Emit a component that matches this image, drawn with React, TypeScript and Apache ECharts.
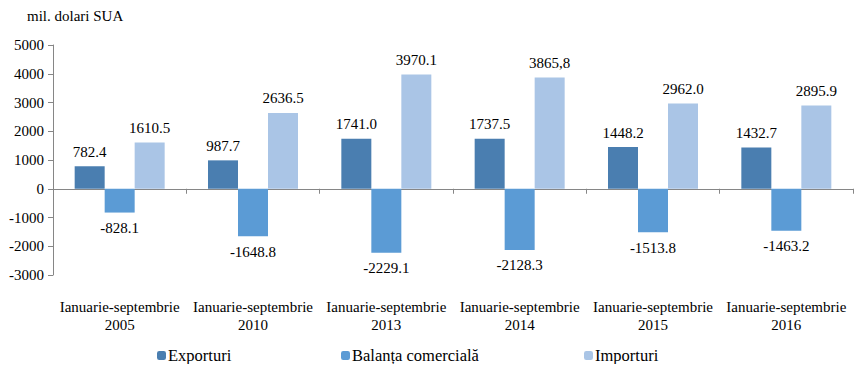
import React, { useEffect, useRef } from "react";
import * as echarts from "echarts";

const categories = [
  "Ianuarie-septembrie\n2005",
  "Ianuarie-septembrie\n2010",
  "Ianuarie-septembrie\n2013",
  "Ianuarie-septembrie\n2014",
  "Ianuarie-septembrie\n2015",
  "Ianuarie-septembrie\n2016",
];
const exporturi = [782.4, 987.7, 1741.0, 1737.5, 1448.2, 1432.7];
const balanta = [-828.1, -1648.8, -2229.1, -2128.3, -1513.8, -1463.2];
const importuri = [1610.5, 2636.5, 3970.1, 3865.8, 2962.0, 2895.9];
const exporturiLabels = ["782.4", "987.7", "1741.0", "1737.5", "1448.2", "1432.7"];
const balantaLabels = ["-828.1", "-1648.8", "-2229.1", "-2128.3", "-1513.8", "-1463.2"];
const importuriLabels = ["1610.5", "2636.5", "3970.1", "3865,8", "2962.0", "2895.9"];
const seriesNames = ["Exporturi", "Balanța comercială", "Importuri"];
const unitLabel = "mil. dolari SUA";

const FONT = "Liberation Serif";

export default function App() {
  const ref = useRef<HTMLDivElement>(null);
  useEffect(() => {
    if (!ref.current) return;
    const chart = echarts.init(ref.current, null, { renderer: "svg" });
    const labelStyle = { show: true, fontFamily: FONT, fontSize: 15, color: "#000" };
    const legendText = { fontFamily: FONT, fontSize: 16.5, color: "#000", padding: [0, 0, 0, -3] };
    chart.setOption({
      animation: false,
      textStyle: { fontFamily: FONT },
      grid: { left: 53, right: 11, top: 45, bottom: 97 },
      graphic: [
        {
          type: "text",
          left: 27,
          top: 8,
          style: { text: unitLabel, fontFamily: FONT, fontSize: 15, fill: "#000" },
        },
      ],
      legend: [
        { data: [seriesNames[0]], left: 152, top: 342, itemWidth: 9, itemHeight: 9, textStyle: legendText },
        { data: [seriesNames[1]], left: 336, top: 342, itemWidth: 9, itemHeight: 9, textStyle: legendText },
        { data: [seriesNames[2]], left: 579, top: 342, itemWidth: 9, itemHeight: 9, textStyle: legendText },
      ],
      xAxis: [
        {
          type: "category",
          data: categories,
          axisLine: { show: true, onZero: true, lineStyle: { color: "#868686", width: 1 } },
          axisTick: { show: true, length: 5, lineStyle: { color: "#868686" } },
          axisLabel: { show: false },
        },
        {
          type: "category",
          data: categories,
          position: "bottom",
          axisLine: { show: false, onZero: false },
          axisTick: { show: false },
          axisLabel: {
            show: true,
            interval: 0,
            margin: 23,
            fontFamily: FONT,
            fontSize: 15,
            color: "#000",
            lineHeight: 18,
          },
        },
      ],
      yAxis: {
        type: "value",
        min: -3000,
        max: 5000,
        interval: 1000,
        splitLine: { show: false },
        axisLine: { show: true, lineStyle: { color: "#868686" } },
        axisTick: { show: true, length: 5, lineStyle: { color: "#868686" } },
        axisLabel: {
          fontFamily: FONT,
          fontSize: 15,
          color: "#000",
          margin: 9,
          formatter: (v: number) => String(v),
        },
      },
      series: [
        {
          name: seriesNames[0],
          type: "bar",
          data: exporturi,
          barWidth: 30,
          barGap: "0%",
          itemStyle: { color: "#4a7eb0" },
          label: { ...labelStyle, position: "top", distance: 7, formatter: (p: any) => exporturiLabels[p.dataIndex] },
        },
        {
          name: seriesNames[1],
          type: "bar",
          data: balanta,
          barWidth: 30,
          barGap: "0%",
          itemStyle: { color: "#5b9bd5" },
          label: { ...labelStyle, position: "bottom", distance: 8, formatter: (p: any) => balantaLabels[p.dataIndex] },
        },
        {
          name: seriesNames[2],
          type: "bar",
          data: importuri,
          barWidth: 30,
          barGap: "0%",
          itemStyle: { color: "#aac5e6" },
          label: { ...labelStyle, position: "top", distance: 7, formatter: (p: any) => importuriLabels[p.dataIndex] },
        },
      ],
    });
    return () => chart.dispose();
  }, []);
  return <div ref={ref} style={{ width: 864, height: 372, margin: -8 }} />;
}
